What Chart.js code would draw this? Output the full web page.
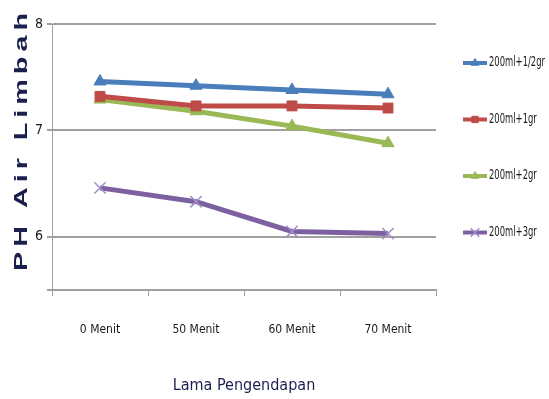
<!DOCTYPE html>
<html>
<head>
<meta charset="utf-8">
<script src="https://cdn.jsdelivr.net/npm/chart.js@4"></script>
<style>
  html, body { margin: 0; padding: 0; background: #fff; }
  #wrap { width: 549px; height: 399px; }
</style>
</head>
<body>
<div id="wrap"><canvas id="phChart" width="549" height="399"></canvas></div>
<script>
// Data pH air limbah per lama pengendapan
const kategori = ['0 Menit', '50 Menit', '60 Menit', '70 Menit'];
const labelSeri = ['200ml+1/2gr', '200ml+1gr', '200ml+2gr', '200ml+3gr'];
const ph_setengah = [7.46, 7.42, 7.38, 7.34];
const ph_satu = [7.32, 7.23, 7.23, 7.21];
const ph_dua = [7.29, 7.18, 7.04, 6.88];
const ph_tiga = [6.46, 6.33, 6.05, 6.03];
const tickY = [5.5, 6, 7, 8];

const fontNarrow = '"DejaVu Sans Condensed", "Liberation Sans Narrow", sans-serif';
const abu = '#a0a0a0';

// Legend digambar manual di sisi kanan
const legendKanan = {
    id: 'legendKanan',
    afterDraw(chart) {
        const ctx = chart.ctx;
        ctx.save();
        chart.data.datasets.forEach((ds, i) => {
            const y = 63 + i * 56.5;
            ctx.strokeStyle = ds.borderColor;
            ctx.lineWidth = 4;
            ctx.beginPath();
            ctx.moveTo(463, y);
            ctx.lineTo(487, y);
            ctx.stroke();
            ctx.fillStyle = ds.pointBackgroundColor;
            ctx.strokeStyle = ds.pointBorderColor;
            ctx.lineWidth = ds.pointBorderWidth;
            Chart.helpers.drawPoint(ctx, {
                pointStyle: ds.pointStyle,
                radius: ds.pointStyle === 'crossRot' ? 6 : 4.5,
                borderWidth: ds.pointBorderWidth
            }, 475, y);
            // teks legend dipersempit agar muat
            ctx.save();
            ctx.translate(489, y);
            ctx.scale(0.78, 1.1);
            ctx.fillStyle = '#1a1a1a';
            ctx.font = '12px ' + fontNarrow;
            ctx.textBaseline = 'middle';
            ctx.textAlign = 'left';
            ctx.fillText(ds.label, 0, 0);
            ctx.restore();
        });
        ctx.restore();
    }
};

// Judul sumbu Y dengan huruf direnggangkan
const judulY = {
    id: 'judulY',
    afterDraw(chart) {
        const ctx = chart.ctx;
        const teks = 'PH Air Limbah';
        const panjang = 258;
        const regang = 1.6;
        ctx.save();
        ctx.font = 'bold 18px "Liberation Sans", Arial, sans-serif';
        const lebar = ctx.measureText(teks).width * regang;
        const spasi = (panjang - lebar) / (teks.length - 1) / regang;
        ctx.translate(22, 142);
        ctx.rotate(-Math.PI / 2);
        ctx.scale(regang, 1);
        ctx.letterSpacing = spasi.toFixed(2) + 'px';
        ctx.fillStyle = '#1b1f4e';
        ctx.textAlign = 'center';
        ctx.textBaseline = 'middle';
        ctx.fillText(teks, spasi / 2, 0);
        ctx.restore();
    }
};

function seri(label, data, warna, titik, ukuran, warnaTitik, tebalTitik) {
    return {
        label: label,
        data: data,
        borderColor: warna,
        borderWidth: 5,
        pointStyle: titik,
        pointRadius: ukuran,
        pointHoverRadius: ukuran,
        pointBackgroundColor: warnaTitik,
        pointBorderColor: warnaTitik,
        pointBorderWidth: tebalTitik,
        tension: 0
    };
}

new Chart(document.getElementById('phChart'), {
    type: 'line',
    data: {
        labels: kategori,
        datasets: [
            seri(labelSeri[0], ph_setengah, '#4a7ebb', 'triangle', 7, '#4a7ebb', 1),
            seri(labelSeri[1], ph_satu, '#be4b48', 'rect', 7, '#be4b48', 1),
            seri(labelSeri[2], ph_dua, '#98b954', 'triangle', 7, '#98b954', 1),
            seri(labelSeri[3], ph_tiga, '#7d60a0', 'crossRot', 8, '#a08cc8', 1.5)
        ]
    },
    options: {
        responsive: false,
        animation: false,
        layout: { padding: { top: 24, right: 113, left: 0, bottom: 0 } },
        plugins: {
            legend: { display: false },
            tooltip: { enabled: false }
        },
        scales: {
            x: {
                offset: true,
                grid: {
                    offset: true,
                    drawOnChartArea: false,
                    drawTicks: true,
                    tickLength: 6,
                    color: abu
                },
                border: { color: abu, width: 2 },
                ticks: {
                    padding: 27,
                    color: '#1a1a1a',
                    font: { family: fontNarrow, size: 12 }
                },
                title: {
                    display: true,
                    text: 'Lama Pengendapan',
                    color: '#1b1f4e',
                    font: { family: fontNarrow, size: 16 },
                    padding: { top: 16 }
                },
                afterFit(scale) { scale.height = 109; }
            },
            y: {
                min: 5.5,
                max: 8,
                afterBuildTicks(scale) {
                    scale.ticks = tickY.map(v => ({ value: v }));
                },
                grid: { color: abu, lineWidth: 2, tickLength: 5 },
                border: { color: abu, width: 1 },
                ticks: {
                    padding: 4,
                    color: '#1a1a1a',
                    font: { family: fontNarrow, size: 14 },
                    callback: v => (v === 5.5 ? '' : v)
                },
                afterFit(scale) { scale.width = 52; }
            }
        }
    },
    plugins: [legendKanan, judulY]
});
</script>
</body>
</html>
